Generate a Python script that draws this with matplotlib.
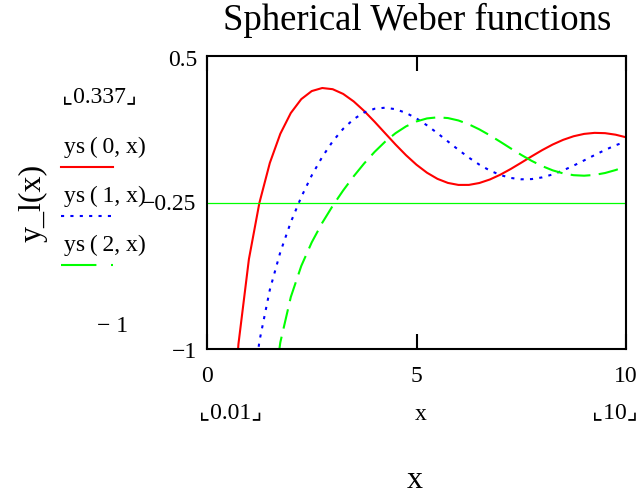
import matplotlib
matplotlib.use("Agg")
import matplotlib.pyplot as plt

# values (ys(n, x), spherical Weber functions)
x = [0.5, 0.75, 1.0, 1.25, 1.5, 1.75, 2.0, 2.25, 2.5, 2.75, 3.0, 3.25, 3.5, 3.75,
     4.0, 4.25, 4.5, 4.75, 5.0, 5.25, 5.5, 5.75, 6.0, 6.25, 6.5, 6.75, 7.0, 7.25,
     7.5, 7.75, 8.0, 8.25, 8.5, 8.75, 9.0, 9.25, 9.5, 9.75, 10.0]
ys0 = [-1.7552, -0.9756, -0.5403, -0.2523, -0.0472, 0.1019, 0.2081, 0.2792, 0.3205,
       0.3361, 0.3300, 0.3059, 0.2676, 0.2188, 0.1634, 0.1050, 0.0468, -0.0079,
       -0.0567, -0.0975, -0.1289, -0.1498, -0.1600, -0.1599, -0.1502, -0.1323,
       -0.1077, -0.0783, -0.0462, -0.0134, 0.0182, 0.0468, 0.0708, 0.0892, 0.1012,
       0.1065, 0.1050, 0.0972, 0.0839]
ys1 = [-4.4692, -2.2096, -1.3818, -0.9610, -0.6964, -0.5041, -0.3506, -0.2217, -0.1112,
       -0.0166, 0.0630, 0.1274, 0.1767, 0.2108, 0.2301, 0.2353, 0.2276, 0.2087,
       0.1804, 0.1450, 0.1049, 0.0624, 0.0199, -0.0203, -0.0562, -0.0863, -0.1093,
       -0.1243, -0.1312, -0.1301, -0.1214, -0.1062, -0.0856, -0.0612, -0.0345,
       -0.0073, 0.0190, 0.0427, 0.0628]
ys2 = [-25.06, -7.863, -3.605, -2.054, -1.3457, -0.9660, -0.7340, -0.5748, -0.4539,
       -0.3542, -0.2670, -0.1883, -0.1161, -0.0502, 0.0091, 0.0611, 0.1049, 0.1397,
       0.1650, 0.1804, 0.1860, 0.1823, 0.1700, 0.1502, 0.1243, 0.0940, 0.0609,
       0.0269, -0.0063, -0.0370, -0.0637, -0.0854, -0.1010, -0.1102, -0.1128,
       -0.1088, -0.0990, -0.0840, -0.0651]
marker_y = -0.25

serif = ["Liberation Serif", "DejaVu Serif"]
plt.rcParams["font.family"] = serif
corner = serif + ["DejaVu Sans"]
fs = 17

fig = plt.figure(figsize=(6.43, 4.95), dpi=100)
ax = fig.add_axes([207 / 643, 1 - 349 / 495, 419 / 643, 293 / 495])

dot_ls = (0, (1.5, 3))
dash_ls = (0, (9.5, 4))
ax.plot(x, ys0, color="#ff0000", lw=1.5)
ax.plot(x, ys1, color="#0000ff", lw=1.5, linestyle=dot_ls)
ax.plot(x, ys2, color="#00ff00", lw=1.5, linestyle=dash_ls)
ax.axhline(marker_y, color="#00ff00", lw=0.9)

ax.set_xlim(0, 10)
ax.set_ylim(-1, 0.5)
for s in ax.spines.values():
    s.set_linewidth(1.5)

ax.set_xticks([0, 5, 10])
ax.set_xticklabels(["0", "5", "10"], fontsize=fs)
ax.tick_params(axis="x", direction="in", length=11, width=1.5, top=True, pad=12)
ax.set_yticks([])

# y limit labels
fig.text(197 / 643, 1 - 60 / 495, "0.5", ha="right", va="center", fontsize=fs)
fig.text(197 / 643, 1 - 352 / 495, "\u22121", ha="right", va="center", fontsize=fs)
fig.text(196 / 643, 1 - 204 / 495, "\u22120.25", ha="right", va="center", fontsize=fs)

fig.text(417 / 643, 1 - 20 / 495, "Spherical Weber functions", ha="center",
         va="center", fontsize=26.5)
fig.text(33 / 643, 1 - 203 / 495, "y_l(x)", rotation=90, ha="center", va="center",
         fontsize=23)
fig.text(415 / 643, 1 - 480 / 495, "x", ha="center", va="center", fontsize=23)

# Mathcad-style range labels
fig.text(100 / 643, 1 - 97 / 495, "\u231e0.337\u231f", ha="center", va="center",
         fontsize=fs, family=corner)
fig.text(113 / 643, 1 - 326 / 495, "\u2212 1", ha="center", va="center", fontsize=fs)
fig.text(231 / 643, 1 - 413 / 495, "\u231e0.01\u231f", ha="center", va="center",
         fontsize=fs, family=corner)
fig.text(421 / 643, 1 - 414 / 495, "x", ha="center", va="center", fontsize=fs)
fig.text(615 / 643, 1 - 413 / 495, "\u231e10\u231f", ha="center", va="center",
         fontsize=fs, family=corner)

# legend on the left
labels = ["ys\u2009(\u20090, x)", "ys\u2009(\u20091, x)", "ys\u2009(\u20092, x)"]
styles = [("#ff0000", "-"), ("#0000ff", dot_ls), ("#00ff00", (0, (17, 7, 1, 7)))]
label_y = [147, 196, 245]
for lab, (c, ls), yy in zip(labels, styles, label_y):
    fig.text(64 / 643, 1 - yy / 495, lab, ha="left", va="center", fontsize=fs)
    fig.add_artist(plt.Line2D([61 / 643, 113 / 643], [1 - (yy + 20) / 495] * 2,
                              color=c, lw=1.5, linestyle=ls))

fig.savefig("out.png", dpi=100)
